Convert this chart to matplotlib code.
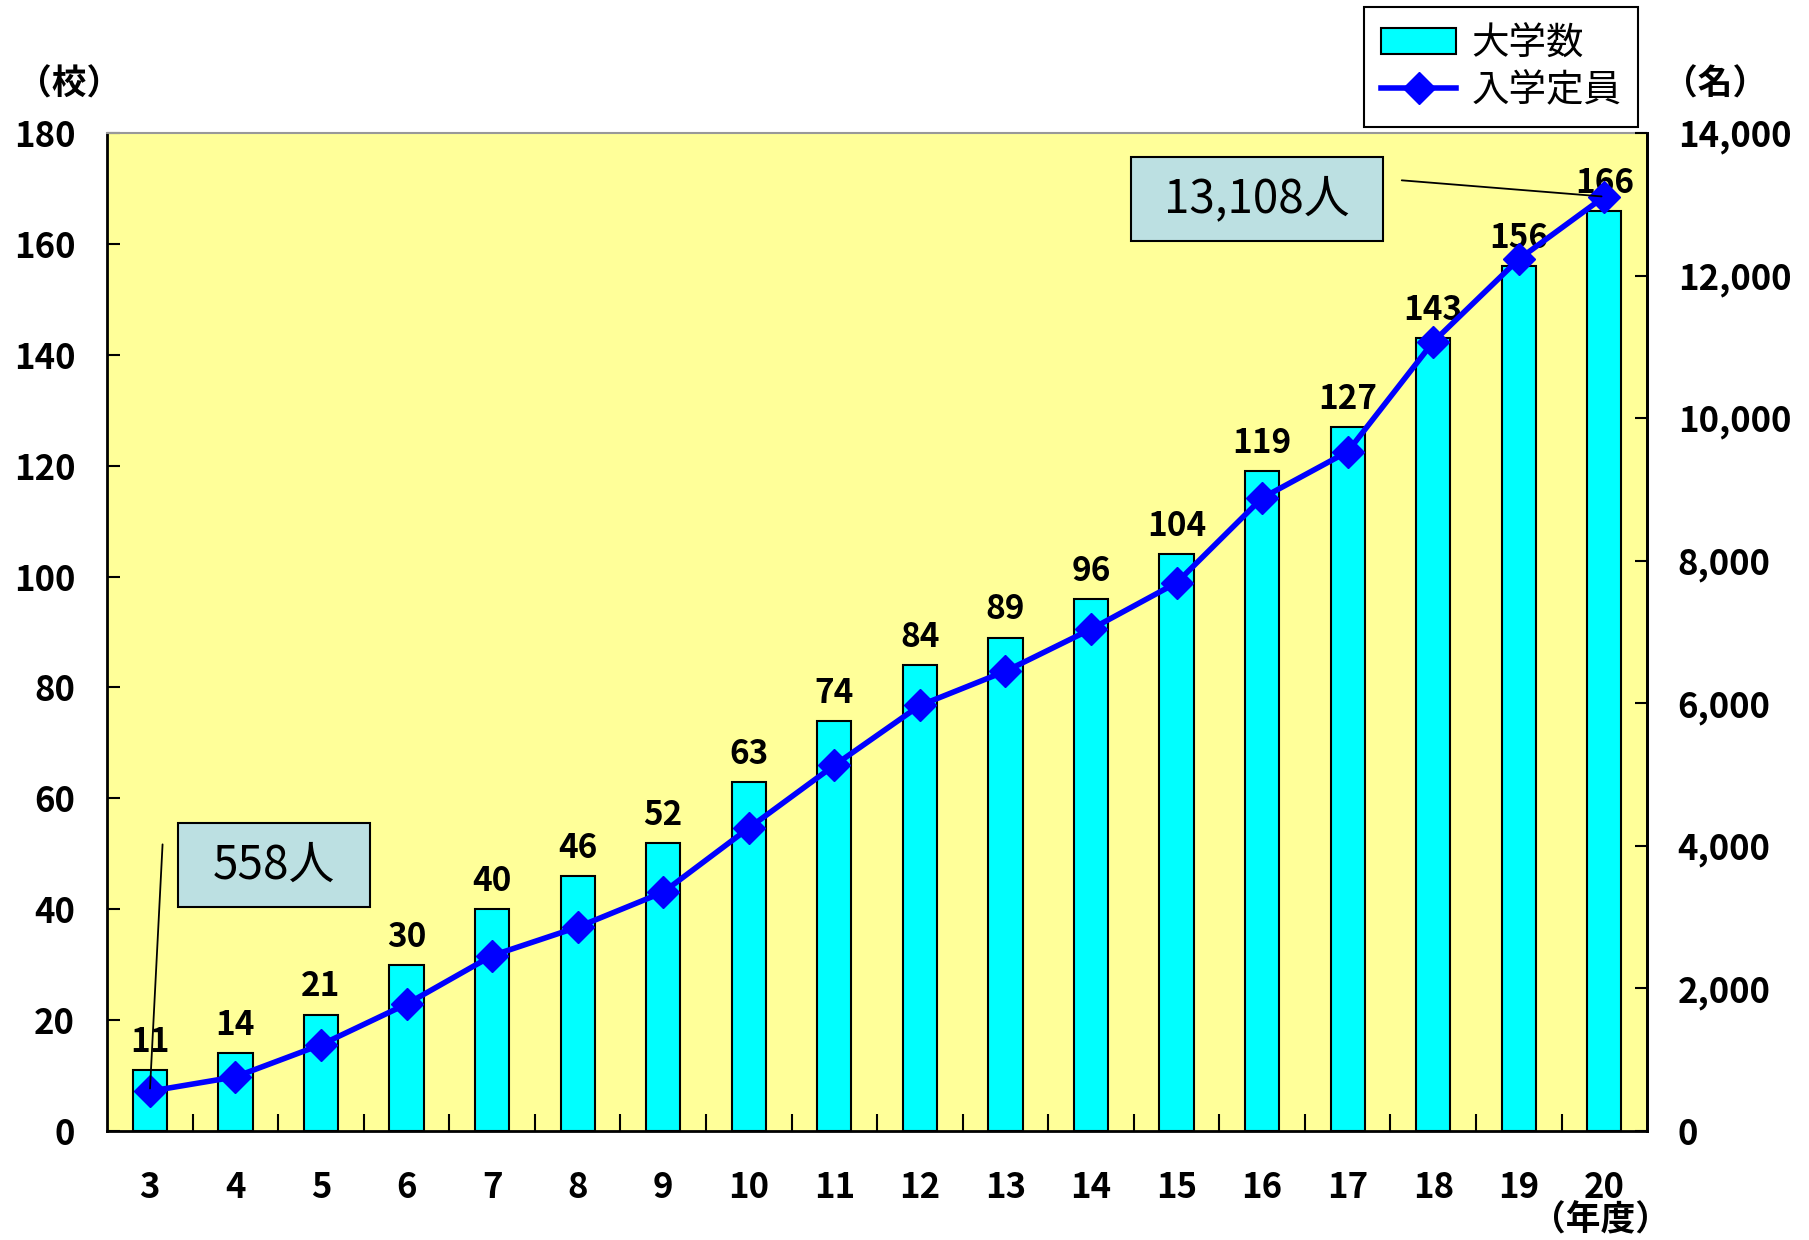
#!/usr/bin/env python3

import matplotlib
matplotlib.use('Agg')
import matplotlib.pyplot as plt
from matplotlib.patches import Rectangle
from matplotlib.ticker import FixedLocator, FuncFormatter

plt.rcParams['font.family'] = ['Noto Sans CJK JP', 'DejaVu Sans']

years = ['3', '4', '5', '6', '7', '8', '9', '10', '11', '12',
         '13', '14', '15', '16', '17', '18', '19', '20']
universities = [11, 14, 21, 30, 40, 46, 52, 63, 74, 84,
                89, 96, 104, 119, 127, 143, 156, 166]
capacity = [558, 760, 1210, 1780, 2460, 2860, 3350, 4250, 5130, 5970,
            6450, 7040, 7690, 8880, 9530, 11070, 12230, 13108]

left_ticks = [0, 20, 40, 60, 80, 100, 120, 140, 160, 180]
right_ticks = [0, 2000, 4000, 6000, 8000, 10000, 12000, 14000]


def callout(fig, rect, text):
    # rect in figure fraction: x0, y0, w, h
    x0, y0, w, h = rect
    fig.patches.append(Rectangle((x0, y0), w, h, transform=fig.transFigure,
                                 facecolor='#BCE0E2', edgecolor='black',
                                 linewidth=1.5, zorder=5))
    fig.text(x0 + w / 2, y0 + h / 2, text, ha='center', va='center',
             fontsize=33, zorder=6)


def main():
    fig = plt.figure(figsize=(18.09, 12.4), dpi=100)
    ax = fig.add_axes([0.0592, 0.0879, 0.8513, 0.8048])
    ax.set_facecolor('#FFFF99')

    x = list(range(len(years)))
    ax.bar(x, universities, width=0.4, color='#00FFFF', edgecolor='black',
           linewidth=1.5, label='大学数', zorder=2)
    for xi, v in zip(x, universities):
        ax.text(xi, v + 2, str(v), ha='center', va='bottom',
                fontsize=24, fontweight='bold', zorder=3)

    ax.set_xlim(-0.5, len(years) - 0.5)
    ax.set_ylim(0, 180)
    ax.set_yticks(left_ticks)
    ax.tick_params(axis='y', direction='in', length=9, width=1.5,
                   labelsize=25, pad=23)
    for lab in ax.get_yticklabels():
        lab.set_fontweight('bold')

    ax.set_xticks(x)
    ax.set_xticklabels(years, fontsize=25, fontweight='bold')
    ax.tick_params(axis='x', which='major', length=0, pad=28)
    ax.xaxis.set_minor_locator(FixedLocator([i + 0.5 for i in x[:-1]]))
    ax.tick_params(axis='x', which='minor', direction='in', length=12, width=1.5)

    for side in ['left', 'bottom', 'right']:
        ax.spines[side].set_linewidth(2)
        ax.spines[side].set_color('black')
    ax.spines['top'].set_color('#999999')
    ax.spines['top'].set_linewidth(1.5)

    ax2 = ax.twinx()
    ax2.plot(x, capacity, color='#0000FF', linewidth=4, marker='D',
             markersize=16, label='入学定員')
    ax2.set_ylim(0, 14000)
    ax2.set_yticks(right_ticks)
    ax2.yaxis.set_major_formatter(FuncFormatter(lambda v, p: f'{int(v):,}'))
    ax2.tick_params(axis='y', direction='in', length=9, width=1.5,
                    labelsize=25, pad=22)
    for lab in ax2.get_yticklabels():
        lab.set_fontweight('bold')
    for side in ['left', 'bottom', 'top']:
        ax2.spines[side].set_visible(False)
    ax2.spines['right'].set_linewidth(2)

    # leader lines to the first and last points
    ax2.annotate('', xy=(x[0], capacity[0]), xytext=(0.15, 4060),
                 arrowprops=dict(arrowstyle='-', color='black', lw=1.3))
    ax2.annotate('', xy=(x[-1], capacity[-1]), xytext=(14.6, 13340),
                 arrowprops=dict(arrowstyle='-', color='black', lw=1.3))
    callout(fig, (0.0984, 0.2685, 0.1061, 0.0677), f'{capacity[0]:,}人')
    callout(fig, (0.6252, 0.8056, 0.1393, 0.0677), f'{capacity[-1]:,}人')

    # unit labels
    fig.text(0.038, 0.932, '（校）', fontsize=25, fontweight='bold',
             ha='center', va='center')
    fig.text(0.948, 0.932, '（名）', fontsize=25, fontweight='bold',
             ha='center', va='center')
    fig.text(0.885, 0.016, '（年度）', fontsize=25, fontweight='bold',
             ha='center', va='center')

    h1, l1 = ax.get_legend_handles_labels()
    h2, l2 = ax2.get_legend_handles_labels()
    leg = fig.legend(h1 + h2, l1 + l2, loc='upper right',
                     bbox_to_anchor=(0.9055, 0.994), borderaxespad=0,
                     fontsize=27, frameon=True, fancybox=False,
                     edgecolor='black', framealpha=1, handlelength=2.0,
                     borderpad=0.45, labelspacing=0.2, handletextpad=0.4)
    leg.get_frame().set_linewidth(1.5)

    fig.savefig('out.png', dpi=100)


if __name__ == '__main__':
    main()
